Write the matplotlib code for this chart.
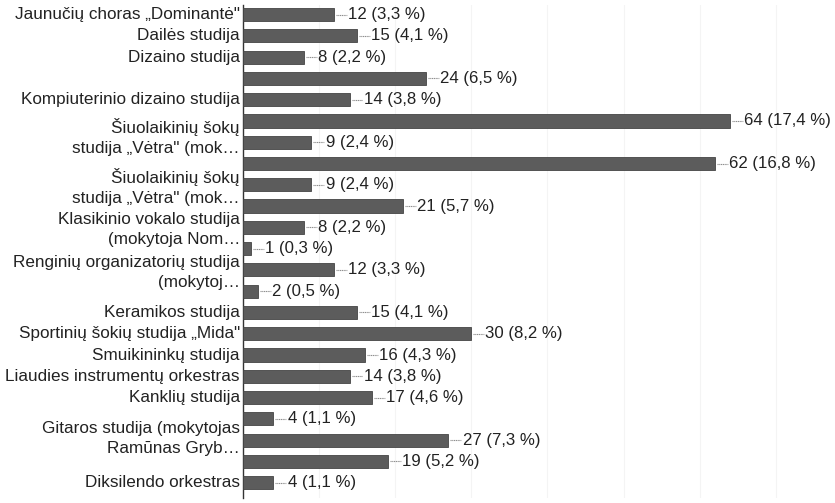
import matplotlib
matplotlib.use("Agg")
import matplotlib.pyplot as plt

# ---- data ----
counts = [12, 15, 8, 24, 14, 64, 9, 62, 9, 21, 8, 1, 12, 2, 15, 30, 16, 14, 17, 4, 27, 19, 4]
percents = [3.3, 4.1, 2.2, 6.5, 3.8, 17.4, 2.4, 16.8, 2.4, 5.7, 2.2, 0.3, 3.3, 0.5, 4.1, 8.2,
            4.3, 3.8, 4.6, 1.1, 7.3, 5.2, 1.1]
label_lines = [
    "Jaunučių choras „Dominantė\"",
    "Dailės studija",
    "Dizaino studija",
    "Kompiuterinio dizaino studija",
    "Šiuolaikinių šokų",
    "studija „Vėtra\" (mok…",
    "Šiuolaikinių šokų",
    "studija „Vėtra\" (mok…",
    "Klasikinio vokalo studija",
    "(mokytoja Nom…",
    "Renginių organizatorių studija",
    "(mokytoj…",
    "Keramikos studija",
    "Sportinių šokių studija „Mida\"",
    "Smuikininkų studija",
    "Liaudies instrumentų orkestras",
    "Kanklių studija",
    "Gitaros studija (mokytojas",
    "Ramūnas Gryb…",
    "Diksilendo orkestras",
]
# vertical positions of the label lines (in bar-index units)
label_pos = [0, 1, 2, 4, 5.3, 6.3, 7.65, 8.65, 9.62, 10.58, 11.65, 12.6, 14, 15, 16, 17, 18,
             19.45, 20.4, 22]

plt.rcParams['font.family'] = ['Liberation Sans', 'DejaVu Sans']

fig = plt.figure(figsize=(8.35, 5.03), dpi=100)
ax = fig.add_axes([243 / 835, 0.01, (835 - 243) / 835, 0.98])

ypos = list(range(len(counts)))
ax.barh(ypos, counts, height=0.62, color='#5c5c5c', edgecolor='#444444', linewidth=0.6, zorder=3)

xmax = (835 - 243) / 7.61
ax.set_xlim(0, xmax)
ax.set_ylim(22.72, -0.45)

for x in range(10, 80, 10):
    ax.axvline(x, color='#f4f4f4', linewidth=0.8, zorder=1)

for y, c, p in zip(ypos, counts, percents):
    ax.plot([c + 0.26, c + 1.7], [y, y], color='#8a8a8a', linewidth=0.8, linestyle=(0, (1, 0.6)),
            zorder=3, clip_on=False)
    ax.text(c + 1.85, y, f"{c} ({str(p).replace('.', ',')} %)", va='center', ha='left',
            fontsize=12.1, color='#222222', clip_on=False)

for t, y in zip(label_lines, label_pos):
    ax.text(-0.4, y, t, va='center', ha='right', fontsize=12.3, color='#222222', clip_on=False)

for s in ['top', 'right', 'bottom']:
    ax.spines[s].set_visible(False)
ax.spines['left'].set_color('#333333')
ax.spines['left'].set_linewidth(1.0)
ax.set_xticks([])
ax.set_yticks([])

fig.savefig('out.png', dpi=100, facecolor='white')
